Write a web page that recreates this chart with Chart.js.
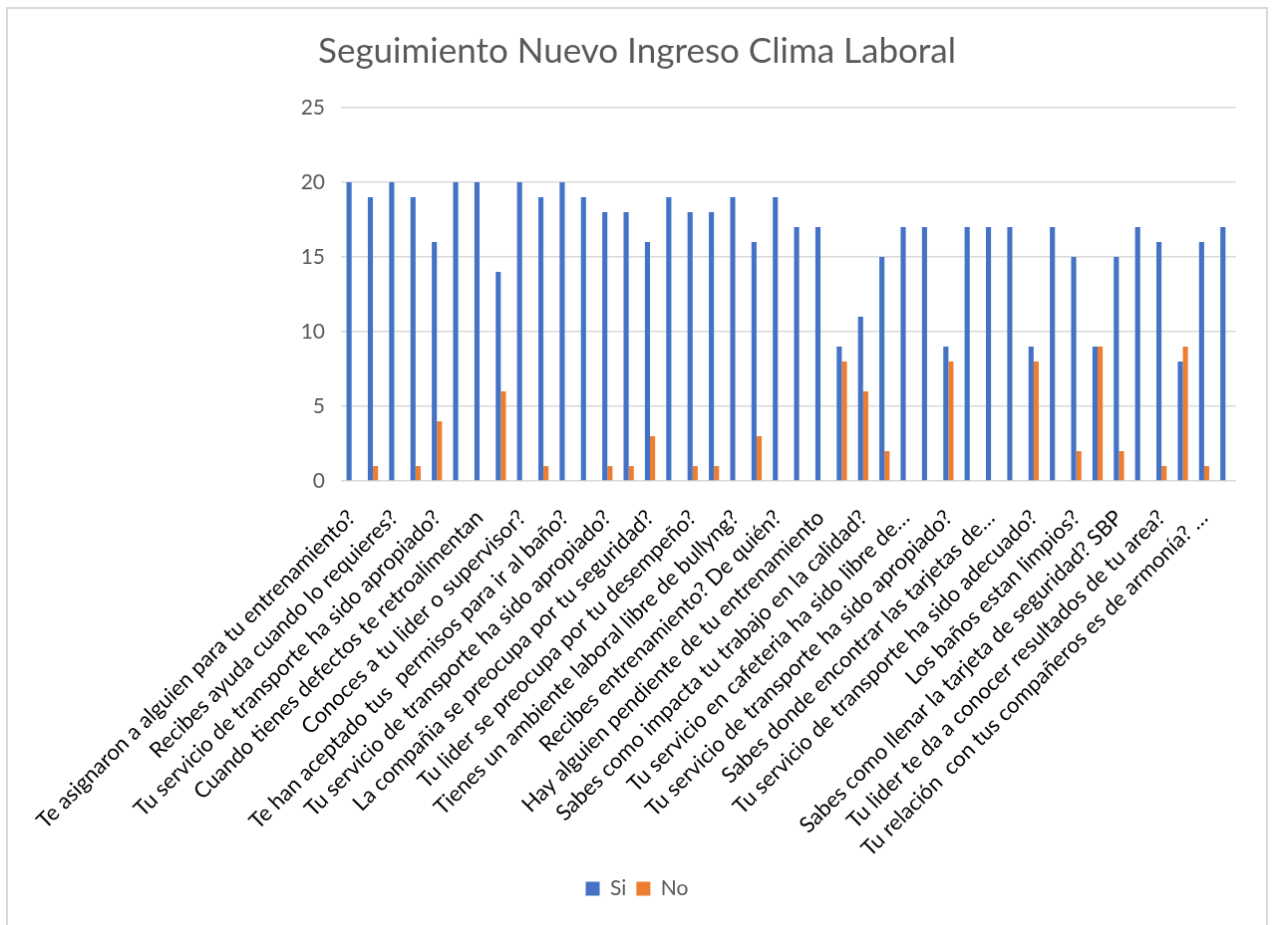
<!DOCTYPE html>
<html>
	<head>
		<meta charset="UTF-8" />
		<title>Seguimiento Nuevo Ingreso Clima Laboral</title>
		<script src="https://cdn.jsdelivr.net/npm/chart.js@4.4.1/dist/chart.umd.min.js"></script>
		<style type="text/css">
			body {
				margin: 0;
				background: #ffffff;
			}
			#myChart {
				position: absolute;
				left: 6px;
				top: 7px;
				border: 2px solid #d9d9d9;
			}
		</style>
	</head>
	<body>
		<canvas id="myChart" width="1262" height="925"></canvas>

		<script>
			// preguntas: only every other one is readable in the chart
			var preguntas = [
				"Te asignaron a alguien para tu entrenamiento?", "",
				"Recibes ayuda cuando lo requieres?", "",
				"Tu servicio de transporte ha sido apropiado?", "",
				"Cuando tienes defectos te retroalimentan", "",
				"Conoces a tu lider o supervisor?", "",
				"Te han aceptado tus  permisos para ir al baño?", "",
				"Tu servicio de transporte ha sido apropiado?", "",
				"La compañia se preocupa por tu seguridad?", "",
				"Tu lider se preocupa por tu desempeño?", "",
				"Tienes un ambiente laboral libre de bullyng?", "",
				"Recibes entrenamiento? De quién?", "",
				"Hay alguien pendiente de tu entrenamiento", "",
				"Sabes como impacta tu trabajo en la calidad?", "",
				"Tu servicio en cafeteria ha sido libre de…", "",
				"Tu servicio de transporte ha sido apropiado?", "",
				"Sabes donde encontrar las tarjetas de…", "",
				"Tu servicio de transporte ha sido adecuado?", "",
				"Los baños estan limpios?", "",
				"Sabes como llenar la tarjeta de seguridad? SBP", "",
				"Tu lider te da a conocer resultados de tu area?", "",
				"Tu relación  con tus compañeros es de armonía? …", ""
			];

			var si = [20, 19, 20, 19, 16, 20, 20, 14, 20, 19, 20, 19, 18, 18,
				16, 19, 18, 18, 19, 16, 19, 17, 17, 9, 11, 15, 17, 17,
				9, 17, 17, 17, 9, 17, 15, 9, 15, 17, 16, 8, 16, 17];

			var no = [null, 1, null, 1, 4, null, null, 6, null, 1, null, null, 1, 1,
				3, null, 1, 1, null, 3, null, null, null, 8, 6, 2, null, null,
				8, null, null, null, 8, null, 2, 9, 2, null, 1, 9, 1, null];

			var yTicks = [0, 5, 10, 15, 20, 25];
		</script>

		<script>
		const ctx = document.getElementById('myChart').getContext('2d');
		const fuente = 'Lato, Carlito, Calibri, sans-serif';

		const config = {
			type: 'bar',
			data: {
				labels: preguntas,
				datasets: [{
					label: 'Si',
					data: si,
					backgroundColor: '#4472C4',
					borderWidth: 0,
					categoryPercentage: 0.48,
					barPercentage: 1
				},
				{
					label: 'No',
					data: no,
					backgroundColor: '#ED7D31',
					borderWidth: 0,
					categoryPercentage: 0.48,
					barPercentage: 1
				}]
			},
			options: {
				responsive: false,
				animation: false,
				layout: {
					padding: { left: 0, right: 0, top: 0, bottom: 21 }
				},
				plugins: {
					title: {
						display: true,
						text: 'Seguimiento Nuevo Ingreso Clima Laboral',
						color: '#595959',
						font: { family: fuente, size: 35, weight: 'normal' },
						padding: { top: 22, bottom: 35 }
					},
					legend: {
						position: 'bottom',
						labels: {
							color: '#595959',
							font: { family: fuente, size: 21 },
							boxWidth: 14,
							boxHeight: 14,
							padding: 10
						}
					},
					tooltip: { enabled: false }
				},
				scales: {
					x: {
						grid: { display: false },
						border: { display: false },
						ticks: {
							autoSkip: false,
							minRotation: 45,
							maxRotation: 45,
							color: '#000000',
							padding: 16,
							font: { family: fuente, size: 22 }
						},
						afterFit: function (scale) { scale.height = 389; }
					},
					y: {
						min: 0,
						max: 25,
						afterBuildTicks: function (scale) {
							scale.ticks = yTicks.map(function (v) { return { value: v }; });
						},
						grid: { color: '#d9d9d9', lineWidth: 1.5, drawTicks: false },
						border: { display: false },
						ticks: {
							color: '#595959',
							padding: 16,
							font: { family: fuente, size: 21 }
						},
						afterFit: function (scale) { scale.width = 334; }
					},
					// empty right margin so the title stays centred on the whole box
					margen: {
						type: 'linear',
						position: 'right',
						grid: { display: false },
						border: { display: false },
						ticks: { display: false },
						afterFit: function (scale) { scale.width = 30; }
					}
				}
			}
		};

		const myChart = new Chart(ctx, config);
		</script>
	</body>
</html>
